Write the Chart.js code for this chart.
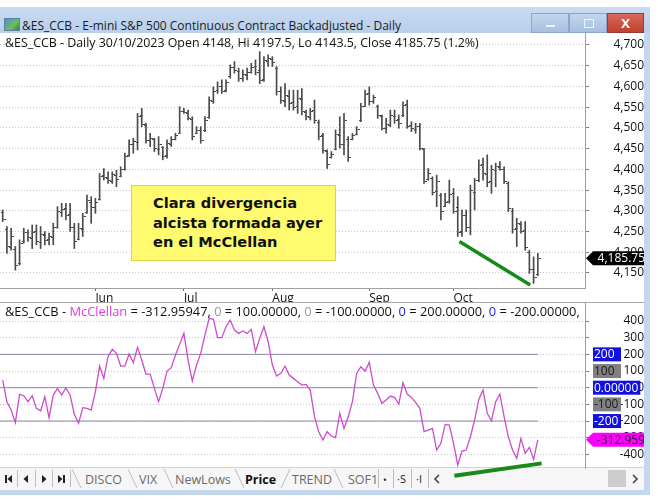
<!DOCTYPE html>
<html>
<head>
<meta charset="utf-8">
<script src="https://cdn.jsdelivr.net/npm/chart.js@4.4.0/dist/chart.umd.min.js"></script>
<style>
body { margin:0; width:658px; height:500px; background:#fff; overflow:hidden; position:relative;
       font-family:"Open Sans", sans-serif; font-size:12px; color:#111; }
.abs { position:absolute; }
#titlebar { left:0; top:7px; width:650px; height:26px; background:linear-gradient(#c9dbf2,#b9cfea); }
#titletext { left:22px; top:17px; font-size:12px; color:#1b1b1b; white-space:nowrap; }
#icon { left:4px; top:18px; width:14px; height:11px; background:linear-gradient(135deg,#4a8fd8 0%,#6bbf5a 60%,#3c7a3a 100%); border:1px solid #5f7fa8; }
.wbtn { top:13px; height:20px; border:1px solid #8aa6cc; box-sizing:border-box; background:linear-gradient(#c3d6ef,#a7bfe0); }
#rborder { left:644px; top:33px; width:6px; height:462px; background:#c3d7ef; }
#bborder { left:0; top:490px; width:650px; height:5px; background:#c3d7ef; }
#sep { left:0; top:302px; width:644px; height:1px; background:#a8a8a8; }
#tabbar { left:0; top:467px; width:644px; height:23px; background:#f6f6f6; border-top:1px solid #d4d4d4; box-sizing:border-box; }
.tab { top:471px; font-size:12.5px; color:#6a6a6a; white-space:nowrap; }
.hdr { left:5px; white-space:nowrap; color:#111; }
#note { left:131px; top:185px; width:205px; height:76px; box-sizing:border-box; background:#fffa6e;
        border:1px solid #e0d04a; padding:7px 0 0 21px; font-family:"DejaVu Sans", sans-serif;
        font-weight:bold; font-size:14.6px; line-height:19.5px; color:#111; }
canvas { position:absolute; left:0; }
</style>
</head>
<body>

<div id="titlebar" class="abs"></div>
<div id="icon" class="abs"></div>
<div id="titletext" class="abs">&amp;ES_CCB - E-mini S&amp;P 500 Continuous Contract Backadjusted - Daily</div>
<div class="abs wbtn" style="left:531px;width:38px;"><div class="abs" style="left:14px;top:11px;width:9px;height:2px;background:#eef3fa;"></div></div>
<div class="abs wbtn" style="left:569px;width:38px;"><div class="abs" style="left:14px;top:5px;width:8px;height:7px;border:1px solid #eef3fa;"></div></div>
<div class="abs wbtn" style="left:607px;width:37px;background:linear-gradient(#d8685c,#c2412f);border-color:#9c3a30;color:#fff;font-weight:bold;font-size:13px;text-align:center;line-height:18px;">X</div>

<div id="rborder" class="abs"></div>
<div id="bborder" class="abs"></div>

<div id="tabbar" class="abs"></div>
<svg class="abs" style="left:0;top:467px" width="644" height="23">
  <g stroke="#bdbdbd" stroke-width="1" fill="none">
    <line x1="17.5" y1="3" x2="17.5" y2="20"/><line x1="35.5" y1="3" x2="35.5" y2="20"/><line x1="52.5" y1="3" x2="52.5" y2="20"/><line x1="70.5" y1="3" x2="70.5" y2="20"/>
    <line x1="72" y1="2" x2="81" y2="21"/><line x1="128" y1="2" x2="137" y2="21"/><line x1="164" y1="2" x2="173" y2="21"/>
    <line x1="235" y1="2" x2="244" y2="21"/><line x1="290" y1="2" x2="281" y2="21"/><line x1="334" y1="2" x2="343" y2="21"/>
    <line x1="378.5" y1="2" x2="378.5" y2="21"/><line x1="393.5" y1="2" x2="393.5" y2="21"/><line x1="411.5" y1="2" x2="411.5" y2="21"/><line x1="428.5" y1="2" x2="428.5" y2="21"/>
  </g>
  <g fill="#222">
    <rect x="5" y="8" width="2" height="8"/><polygon points="12,8 12,16 7.5,12"/>
    <polygon points="28,8 28,16 23.5,12"/>
    <polygon points="42,8 42,16 46.5,12"/>
    <polygon points="58,8 58,16 62.5,12"/><rect x="63" y="8" width="2" height="8"/>
  </g>
  <rect x="608" y="3" width="18" height="17" fill="#cdcdcd"/>
  <polyline points="439,8 435,12 439,16" stroke="#444" stroke-width="1.6" fill="none"/>
  <polyline points="633,8 637,12 633,16" stroke="#444" stroke-width="1.6" fill="none"/>
</svg>
<div class="abs tab" style="left:85px;">DISCO</div>
<div class="abs tab" style="left:139px;">VIX</div>
<div class="abs tab" style="left:175px;">NewLows</div>
<div class="abs tab" style="left:245px;color:#111;font-weight:bold;">Price</div>
<div class="abs tab" style="left:292px;">TREND</div>
<div class="abs tab" style="left:348px;">SOF1</div>
<div class="abs tab" style="left:383px;color:#222;font-size:10px;top:473px;">•</div>
<div class="abs tab" style="left:397px;color:#222;font-size:11px;">·S</div>
<div class="abs tab" style="left:416px;color:#222;font-size:11px;">·I</div>

<canvas id="price" width="644" height="269" style="top:33px;"></canvas>
<div id="sep" class="abs"></div>
<canvas id="mcc" width="644" height="178" style="top:302px;"></canvas>

<div id="hdrPrice" class="abs hdr" style="top:34px;font-size:12.4px;"></div>
<div id="hdrMcc" class="abs hdr" style="top:302px;font-size:12.85px;"></div>
<div id="note" class="abs">Clara divergencia<br>alcista formada ayer<br>en el McClellan</div>

<script>
// ---- data (daily bars, 01/05/2023 .. 30/10/2023) ----
var priceHigh = [4302,4262,4258,4214,4230,4258,4254,4266,4266,4262,4250,4246,4270,4310,4318,4318,4318,4270,4270,4294,
  4338,4334,4330,4390,4402,4394,4394,4398,4406,4439,4471,4475,4535,4547,4511,4487,4475,4479,4455,4471,
  4479,4487,4551,4547,4543,4527,4503,4503,4527,4575,4599,4611,4616,4616,4652,4660,4644,4640,4644,4656,
  4664,4684,4672,4676,4672,4648,4599,4607,4591,4591,4591,4595,4543,4547,4567,4519,4487,4447,4443,4495,
  4527,4535,4479,4487,4503,4559,4591,4599,4579,4555,4531,4523,4543,4543,4531,4563,4567,4515,4511,4511,
  4451,4402,4382,4386,4342,4342,4374,4354,4334,4302,4302,4362,4378,4423,4427,4435,4410,4415,4419,4406,
  4370,4306,4282,4274,4274,4205,4189,4197.5];
var priceLow = [4274,4197,4205,4157,4169,4222,4226,4209,4218,4209,4218,4218,4218,4258,4286,4278,4250,4209,4230,4238,
  4294,4270,4294,4326,4374,4366,4366,4358,4382,4398,4431,4439,4447,4503,4463,4455,4443,4435,4423,4427,
  4455,4471,4487,4535,4519,4471,4487,4463,4491,4523,4559,4583,4583,4587,4620,4632,4612,4612,4616,4632,
  4628,4607,4612,4648,4648,4579,4559,4551,4543,4543,4535,4531,4519,4519,4511,4471,4439,4402,4427,4447,
  4451,4435,4419,4471,4483,4515,4551,4555,4559,4523,4495,4487,4503,4511,4499,4527,4499,4491,4487,4447,
  4366,4374,4338,4310,4278,4310,4318,4294,4238,4238,4250,4242,4302,4370,4374,4358,4342,4358,4398,4366,
  4298,4246,4214,4246,4205,4149,4125,4143.5];
var priceOpen = [4296,4255,4212,4208,4175,4228,4248,4234,4252,4225,4242,4232,4238,4262,4298,4306,4292,4262,4232,4256,
  4298,4322,4308,4328,4386,4380,4372,4386,4384,4402,4434,4460,4466,4530,4506,4472,4474,4450,4454,4434,
  4462,4474,4488,4540,4536,4522,4488,4494,4494,4526,4566,4592,4600,4592,4624,4648,4638,4620,4628,4636,
  4650,4640,4618,4662,4666,4645,4590,4566,4578,4562,4552,4570,4538,4526,4542,4515,4482,4444,4430,4450,
  4484,4462,4474,4474,4486,4518,4554,4584,4564,4552,4528,4500,4508,4528,4522,4530,4558,4506,4498,4505,
  4448,4376,4380,4348,4338,4312,4324,4344,4310,4252,4290,4260,4346,4374,4412,4388,4372,4398,4406,4400,
  4368,4300,4258,4268,4254,4200,4160,4148];
var priceClose = [4280,4215,4240,4170,4222,4250,4236,4250,4226,4244,4230,4240,4262,4300,4304,4290,4262,4226,4258,4288,
  4326,4310,4322,4384,4382,4374,4388,4376,4400,4432,4462,4468,4528,4510,4470,4476,4452,4462,4432,4464,
  4474,4482,4540,4538,4524,4480,4496,4472,4520,4568,4590,4600,4590,4610,4646,4640,4620,4630,4636,4648,
  4636,4615,4664,4668,4660,4590,4568,4580,4560,4550,4572,4540,4528,4540,4518,4480,4446,4412,4436,4486,
  4460,4520,4430,4482,4498,4552,4582,4566,4574,4530,4500,4510,4530,4520,4512,4556,4505,4500,4504,4452,
  4372,4392,4346,4372,4300,4322,4340,4300,4250,4290,4262,4350,4374,4410,4390,4370,4400,4408,4402,4372,
  4306,4256,4270,4252,4212,4160,4140,4185.75];
var mcc = [46,-84,-134,-210,-40,-48,-84,-48,-124,-140,-54,-180,-44,-4,-44,0,-44,-160,-214,-120,
  -124,-134,-24,130,56,186,230,206,130,130,202,150,242,166,82,82,-4,-84,-4,100,
  120,196,260,326,166,40,136,206,316,416,410,300,300,366,406,346,326,340,326,350,
  216,296,366,276,136,70,86,130,76,56,36,16,20,-14,-174,-264,-314,-264,-290,-300,
  -154,-244,-174,-84,86,126,100,152,16,-34,-94,-74,-50,-58,-98,30,-38,-58,-88,-124,
  -264,-254,-244,-374,-334,-220,-224,-334,-464,-380,-374,-294,-194,-70,-14,-154,-198,-84,-38,-174,
  -294,-374,-424,-304,-394,-358,-430,-312.95947];

var monthNames = ['Jun', 'Jul', 'Aug', 'Sep', 'Oct'];
var monthStart = [22, 43, 64, 87, 107];
var priceTicks = [4150, 4200, 4250, 4300, 4350, 4400, 4450, 4500, 4550, 4600, 4650, 4700];
var mccTicks = [400, 300, 200, 100, 0, -100, -200, -300, -400];
var refLevels = [200, 0, -200];
var tagLevels = [200, 100, 0, -100, -200];
var tagTexts = ['200', '100', '0.00000', '-100', '-200'];
var tagColors = ['#1212e0', '#808080', '#1212e0', '#808080', '#1212e0'];
// divergence lines drawn on the picture
var divX = [108.4, 125.2];
var divPrice = [4226, 4121];
var divMccX = [107.2, 127.9];
var divMcc = [-528, -454];

var xMin = -0.64, xMax = 138.2;
var last = priceClose.length - 1;
var FONT = '"Open Sans", sans-serif';

// measure widest tick label so labels end at x=642
var mk = document.createElement('canvas').getContext('2d');
mk.font = '12px ' + FONT;
function widest(list) { return Math.max.apply(null, list.map(function(t) { return mk.measureText(t).width; })); }
function fmt(v) { return v.toLocaleString('en-US'); }
var axisLeft = 585, tickLen = 4, labelRight = 642.5;

// header texts
document.getElementById('hdrPrice').textContent = '&ES_CCB - Daily 30/10/2023 Open ' + priceOpen[last] + ', Hi ' + priceHigh[last] +
  ', Lo ' + priceLow[last] + ', Close ' + priceClose[last] + ' (1.2%)';
var lvlTxt = [[100, '#999'], [-100, '#999'], [200, '#1a1ae6'], [-200, '#1a1ae6']].map(function(p) {
  return '<span style="color:' + p[1] + '">0</span> = ' + p[0].toFixed(5) + ', ';
}).join('');
document.getElementById('hdrMcc').innerHTML = '&amp;ES_CCB - <span style="color:#e03ce0">McClellan</span> = ' +
  mcc[last].toFixed(5) + ', ' + lvlTxt;

function drawTag(ctx, y, text, bg, fg) {
  var l = 586, r = 644, h = 14;
  ctx.save();
  ctx.fillStyle = bg;
  ctx.beginPath();
  ctx.moveTo(l, y); ctx.lineTo(l + 7, y - h / 2); ctx.lineTo(r, y - h / 2);
  ctx.lineTo(r, y + h / 2); ctx.lineTo(l + 7, y + h / 2); ctx.closePath();
  ctx.fill();
  ctx.fillStyle = fg;
  ctx.font = '12px ' + FONT;
  ctx.textAlign = 'right';
  ctx.textBaseline = 'middle';
  ctx.fillText(text, r + 1, y + 0.5);
  ctx.restore();
}

var ohlcTicks = {
  id: 'ohlcTicks',
  afterDatasetsDraw: function(chart) {
    var ctx = chart.ctx, x = chart.scales.x, y = chart.scales.y;
    ctx.save();
    ctx.strokeStyle = '#4a4a4a';
    ctx.lineWidth = 1;
    ctx.beginPath();
    for (var i = 0; i < priceOpen.length; i++) {
      var px = Math.round(x.getPixelForValue(i)) + 0.5;
      var po = Math.round(y.getPixelForValue(priceOpen[i])) + 0.5;
      var pc = Math.round(y.getPixelForValue(priceClose[i])) + 0.5;
      ctx.moveTo(px - 2.5, po); ctx.lineTo(px, po);
      ctx.moveTo(px, pc); ctx.lineTo(px + 2.5, pc);
    }
    ctx.stroke();
    ctx.restore();
  }
};

var priceTag = {
  id: 'priceTag',
  afterDraw: function(chart) {
    drawTag(chart.ctx, chart.scales.y.getPixelForValue(priceClose[last]), fmt(priceClose[last]), '#000', '#fff');
  }
};

var levelTags = {
  id: 'levelTags',
  afterDraw: function(chart) {
    var ctx = chart.ctx, y = chart.scales.y;
    ctx.save();
    ctx.font = '12px ' + FONT;
    ctx.textBaseline = 'middle';
    tagLevels.forEach(function(lv, i) {
      var py = y.getPixelForValue(lv);
      var w = ctx.measureText(tagTexts[i]).width;
      ctx.fillStyle = tagColors[i];
      ctx.fillRect(593, py - 7, Math.min(Math.max(w + 3, 28), 51), 14);
      ctx.fillStyle = tagColors[i] === '#808080' ? '#1a1a1a' : '#fff';
      ctx.textAlign = 'left';
      ctx.fillText(tagTexts[i], 594, py + 0.5);
    });
    ctx.restore();
    drawTag(ctx, y.getPixelForValue(mcc[last]), mcc[last].toFixed(3), '#ff00ff', '#1a1a1a');
  }
};

var noLegend = { legend: { display: false }, tooltip: { enabled: false } };

new Chart(document.getElementById('price'), {
  type: 'bar',
  data: {
    datasets: [
      { type: 'line', data: divX.map(function(v, i) { return { x: v, y: divPrice[i] }; }),
        borderColor: '#178a17', borderWidth: 3.5, pointRadius: 0, clip: false },
      { type: 'bar', data: priceHigh.map(function(h, i) { return { x: i, y: [priceLow[i], h] }; }),
        backgroundColor: '#4a4a4a', barThickness: 1, grouped: false }
    ]
  },
  options: {
    responsive: false, animation: false, devicePixelRatio: 1,
    layout: { padding: 0 },
    plugins: noLegend,
    scales: {
      x: {
        type: 'linear', min: xMin, max: xMax, offset: false,
        grid: { offset: false, drawOnChartArea: false, tickLength: 3, tickColor: '#707070' },
        border: { color: '#a0a0a0' },
        ticks: { align: 'start', padding: 0, maxRotation: 0, autoSkip: false, color: '#111',
                 font: { size: 12, family: FONT },
                 callback: function(v, i) { return monthNames[i]; } },
        afterBuildTicks: function(a) { a.ticks = monthStart.map(function(v) { return { value: v }; }); },
        afterFit: function(s) { s.height = 14; s.paddingLeft = 0; s.paddingRight = 0; }
      },
      y: {
        position: 'right', min: 4113.8, max: 4728.9,
        grid: { color: '#c4c4c4', tickLength: tickLen, tickColor: '#808080' },
        border: { color: '#a0a0a0', dash: [1, 2] },
        ticks: { crossAlign: 'far', color: '#111', font: { size: 12, family: FONT },
                 padding: labelRight - axisLeft - tickLen - widest(priceTicks.map(fmt)),
                 callback: function(v) { return fmt(v); } },
        afterBuildTicks: function(a) { a.ticks = priceTicks.map(function(v) { return { value: v }; }); },
        afterFit: function(s) { s.width = 59; s.paddingTop = 0; s.paddingBottom = 0; }
      }
    }
  },
  plugins: [ohlcTicks, priceTag]
});

new Chart(document.getElementById('mcc'), {
  type: 'line',
  data: {
    datasets: [
      { data: divMccX.map(function(v, i) { return { x: v, y: divMcc[i] }; }),
        borderColor: '#178a17', borderWidth: 4, pointRadius: 0, clip: false },
      { data: mcc.map(function(v, i) { return { x: i, y: v }; }),
        borderColor: '#cc4ccc', borderWidth: 1.3, pointRadius: 0, tension: 0 }
    ].concat(refLevels.map(function(lv) {
      return { data: [{ x: xMin, y: lv }, { x: last, y: lv }], borderColor: '#8e89a8', borderWidth: 1, pointRadius: 0 };
    }))
  },
  options: {
    responsive: false, animation: false, devicePixelRatio: 1,
    layout: { padding: { bottom: 12 } },
    plugins: noLegend,
    scales: {
      x: { type: 'linear', min: xMin, max: xMax, display: false },
      y: {
        position: 'right', min: -481.8, max: 514.2,
        grid: { color: '#c4c4c4', tickLength: tickLen, tickColor: '#808080' },
        border: { color: '#a0a0a0', dash: [1, 2] },
        ticks: { crossAlign: 'far', color: '#111', font: { size: 12, family: FONT },
                 padding: labelRight - axisLeft - tickLen - widest(mccTicks.map(String)),
                 callback: function(v) { return String(v); } },
        afterBuildTicks: function(a) { a.ticks = mccTicks.map(function(v) { return { value: v }; }); },
        afterFit: function(s) { s.width = 59; s.paddingTop = 0; s.paddingBottom = 0; }
      }
    }
  },
  plugins: [levelTags]
});
</script>
</body>
</html>
